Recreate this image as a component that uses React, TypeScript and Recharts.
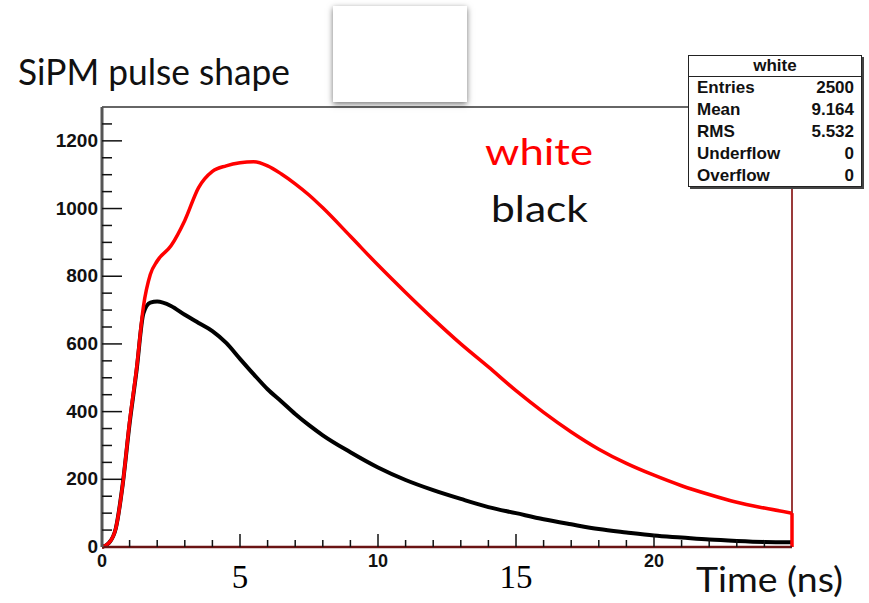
import React from "react";
import { LineChart, Line, XAxis, YAxis, ReferenceLine } from "recharts";

// time in ns
const times = [0, 0.25, 0.5, 0.75, 1, 1.25, 1.5, 1.75, 2, 2.5, 3, 3.5, 4, 4.5, 5, 5.5, 6, 6.5, 7, 7.5, 8, 9, 10, 11, 12, 13, 14, 15, 16, 17, 18, 19, 20, 21, 22, 23, 24, 25];
const whitePulse = [0, 12, 55, 185, 370, 525, 710, 805, 845, 890, 965, 1062, 1110, 1126, 1135, 1138, 1126, 1102, 1073, 1040, 1002, 918, 833, 752, 674, 600, 532, 462, 398, 340, 289, 247, 212, 181, 155, 132, 115, 100];
const blackPulse = [0, 12, 55, 185, 365, 520, 690, 722, 725, 712, 686, 662, 638, 603, 556, 510, 466, 430, 393, 360, 330, 280, 235, 198, 168, 142, 118, 100, 82, 67, 53, 43, 34, 28, 22, 18, 15, 14];

const xTicks = [0, 1, 2, 3, 4, 5, 6, 7, 8, 9, 10, 11, 12, 13, 14, 15, 16, 17, 18, 19, 20, 21, 22, 23, 24, 25];
const xSmallLabels = [0, 10, 20];
const xBigLabels = [5, 15];
const yTicks = [0, 50, 100, 150, 200, 250, 300, 350, 400, 450, 500, 550, 600, 650, 700, 750, 800, 850, 900, 950, 1000, 1050, 1100, 1150, 1200, 1250, 1300];
const yLabels = [0, 200, 400, 600, 800, 1000, 1200];

const statsTitle = "white";
const statsRows = [
  ["Entries", "2500"],
  ["Mean", "9.164"],
  ["RMS", "5.532"],
  ["Underflow", "0"],
  ["Overflow", "0"],
];

const data = times.map((t, i) => ({ t, white: whitePulse[i], black: blackPulse[i] }));

const XTick = (props: any) => {
  const { x, y, payload } = props;
  const v = payload.value;
  const major = v % 5 === 0;
  return (
    <g>
      {v > 0 && v < 25 && (
        <line x1={x} y1={y} x2={x} y2={y - (major ? 13 : 7)} stroke="#111" strokeWidth={1.5} />
      )}
      {xSmallLabels.includes(v) && (
        <text x={x} y={y + 20} textAnchor="middle" fontFamily="Liberation Sans, Arial" fontWeight="bold" fontSize={18} fill="#111">
          {v}
        </text>
      )}
      {xBigLabels.includes(v) && (
        <text x={x} y={y + 41} textAnchor="middle" fontFamily="Liberation Serif, Times New Roman, serif" fontSize={33} fill="#000">
          {v}
        </text>
      )}
    </g>
  );
};

const YTick = (props: any) => {
  const { x, y, payload } = props;
  const v = payload.value;
  const major = v % 200 === 0;
  return (
    <g>
      {v > 0 && v < 1300 && (
        <line x1={x} y1={y} x2={x + (major ? 20 : 10)} y2={y} stroke="#111" strokeWidth={1.5} />
      )}
      {yLabels.includes(v) && (
        <text x={x - 4} y={y + 6} textAnchor="end" fontFamily="Liberation Sans, Arial" fontWeight="bold" fontSize={19} fill="#111">
          {v}
        </text>
      )}
    </g>
  );
};

export default function App() {
  return (
    <div style={{ position: "absolute", left: 0, top: 0, width: 869, height: 603, background: "#fff" }}>
      <LineChart width={869} height={603} data={data} margin={{ top: 107, right: 77, bottom: 0, left: 0 }}>
        <XAxis
          dataKey="t"
          type="number"
          domain={[0, 25]}
          ticks={xTicks}
          interval={0}
          height={56}
          tickSize={0}
          tickMargin={0}
          tickLine={false}
          axisLine={{ stroke: "#6a1414", strokeWidth: 2.5 }}
          tick={<XTick />}
        />
        <YAxis
          type="number"
          domain={[0, 1300]}
          ticks={yTicks}
          interval={0}
          width={102}
          tickSize={0}
          tickMargin={0}
          tickLine={false}
          axisLine={{ stroke: "#555", strokeWidth: 3 }}
          tick={<YTick />}
        />
        <ReferenceLine y={1300} stroke="#666" strokeWidth={2} />
        <ReferenceLine x={25} stroke="#9a3a3a" strokeWidth={2} />
        <Line type="monotone" dataKey="black" stroke="#000" strokeWidth={4} dot={false} isAnimationActive={false} />
        <Line type="monotone" dataKey="white" stroke="#ff0000" strokeWidth={3.5} dot={false} isAnimationActive={false} />
        <ReferenceLine
          segment={[
            { x: times[times.length - 1], y: 0 },
            { x: times[times.length - 1], y: whitePulse[whitePulse.length - 1] },
          ]}
          stroke="#ff0000"
          strokeWidth={3.5}
        />
      </LineChart>

      <svg width={869} height={603} style={{ position: "absolute", left: 0, top: 0, pointerEvents: "none" }}>
        <text x={18} y={85} fontFamily="Lato, Open Sans, sans-serif" fontSize={36} fill="#111" textLength={272} lengthAdjust="spacingAndGlyphs">
          SiPM pulse shape
        </text>
        <text x={485} y={165} fontFamily="Lato, Open Sans, sans-serif" fontSize={37} fill="#ff0000" textLength={108} lengthAdjust="spacingAndGlyphs">
          white
        </text>
        <text x={491} y={222} fontFamily="Lato, Open Sans, sans-serif" fontSize={37} fill="#111" textLength={97} lengthAdjust="spacingAndGlyphs">
          black
        </text>
        <text x={696} y={592} fontFamily="Lato, Open Sans, sans-serif" fontSize={34} fill="#111" textLength={147} lengthAdjust="spacingAndGlyphs">
          Time (ns)
        </text>
      </svg>

      <div
        style={{
          position: "absolute",
          left: 333,
          top: 6,
          width: 134,
          height: 96,
          background: "#fff",
          boxShadow: "0 2px 6px rgba(0,0,0,0.55)",
        }}
      />

      <div
        style={{
          position: "absolute",
          left: 688,
          top: 55,
          width: 172,
          height: 130,
          background: "#fff",
          border: "1.5px solid #222",
          boxShadow: "2px 2px 0 #444",
          fontFamily: "Liberation Sans, Arial, sans-serif",
          fontWeight: "bold",
          fontSize: 17,
          color: "#111",
        }}
      >
        <div style={{ height: 20, lineHeight: "20px", textAlign: "center", borderBottom: "1.5px solid #222" }}>{statsTitle}</div>
        {statsRows.map(([k, v]) => (
          <div key={k} style={{ display: "flex", justifyContent: "space-between", height: 22, lineHeight: "22px", padding: "0 7px 0 8px" }}>
            <span>{k}</span>
            <span>{v}</span>
          </div>
        ))}
      </div>
    </div>
  );
}
